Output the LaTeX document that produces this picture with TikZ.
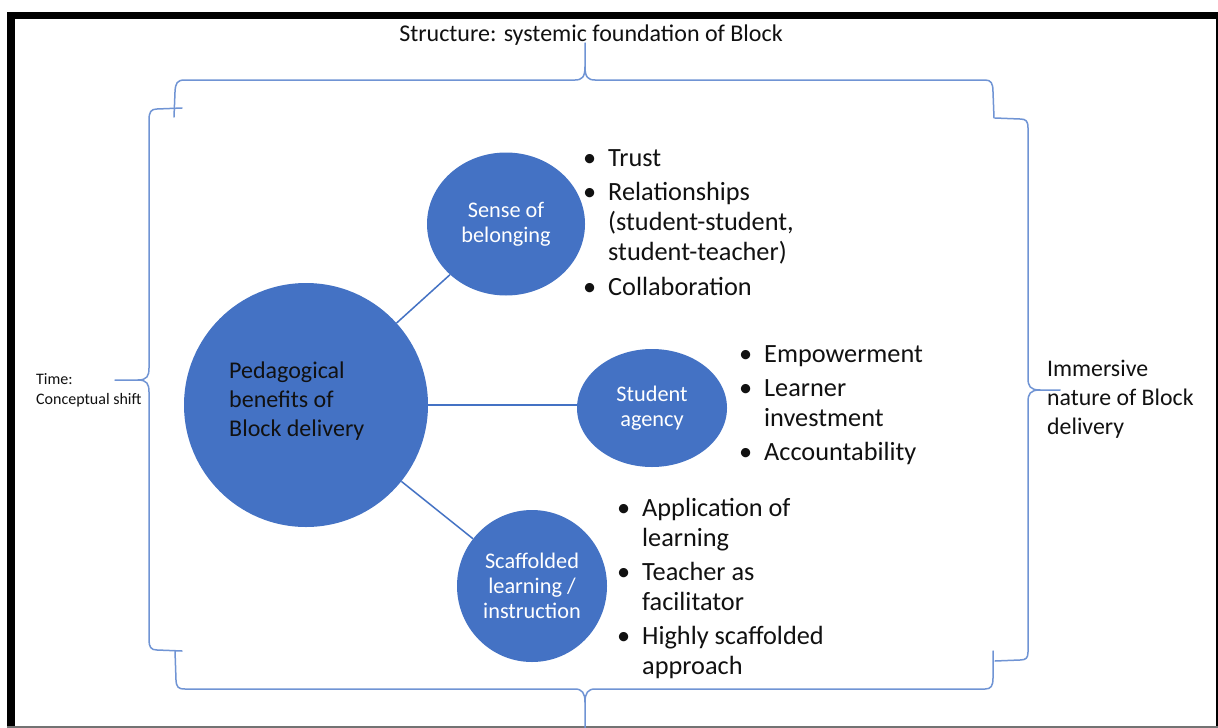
\documentclass[tikz,border=0pt]{standalone}
\usepackage{fontspec}
\setmainfont{Carlito}
\usetikzlibrary{shapes.geometric}
\definecolor{accent}{HTML}{4472C4}
\definecolor{bracec}{RGB}{112,148,212}
\definecolor{txt}{HTML}{111111}
\newcommand{\bul}{\llap{•\hspace{12pt}}}
\begin{document}
\begin{tikzpicture}[x=1pt,y=-1pt,
  bubble/.style={ellipse, fill=accent, inner sep=0pt, text=white, align=center},
  link/.style={draw=accent, line width=1.5pt},
  brace/.style={draw=bracec, line width=1.5pt, line cap=round, line join=round},
  listtxt/.style={anchor=base west, inner sep=0pt, text=txt, font=\fontsize{26.3}{30}\selectfont},
  sidetxt/.style={anchor=west, inner sep=0pt, align=left, text=txt},
]
\useasboundingbox (0,0) rectangle (1218,728);
\fill[white] (0,0) rectangle (1218,728);
% frame
\fill[black] (7,12) rectangle (15,728);
\fill[black] (7,12) rectangle (1218,19);
\draw[black, line width=2pt] (1216.5,12) -- (1216.5,728);
\draw[black!55, line width=2pt] (7,726.8) -- (1218,726.8);

% braces
\draw[brace] (174,117) -- (175,92) .. controls (175.5,83) and (177,80) .. (185,80) -- (575,80)
  .. controls (582,80) and (585,77) .. (585,67) -- (585,43);
\draw[brace] (585,67) .. controls (585,77) and (588,80) .. (595,80) -- (985,80)
  .. controls (991,80) and (993,83) .. (993,92) -- (994,118);
\draw[brace] (182,108) -- (157,109) .. controls (151,109) and (149,112) .. (149,120) -- (149,368)
  .. controls (149,376) and (147,380) .. (138,380) -- (115,380);
\draw[brace] (138,380) .. controls (147,380) and (149,384) .. (149,392) -- (149,640)
  .. controls (149,647) and (151,650) .. (157,650) -- (182,651);
\draw[brace] (995,118) -- (1020,119) .. controls (1026,119) and (1028,121) .. (1028,128) -- (1028,378)
  .. controls (1028,386) and (1030,390) .. (1040,390) -- (1060,390);
\draw[brace] (1040,390) .. controls (1030,390) and (1028,394) .. (1028,402) -- (1028,652)
  .. controls (1028,658) and (1026,660) .. (1020,660) -- (995,661);
\draw[brace] (175,651) -- (176,680) .. controls (176.5,687) and (178,689) .. (185,689) -- (575,689)
  .. controls (582,689) and (585,693) .. (585,702) -- (585,728);
\draw[brace] (585,702) .. controls (585,693) and (588,689) .. (595,689) -- (985,689)
  .. controls (991,689) and (993,686) .. (993,678) -- (993,651);

% circles
\node[bubble, minimum width=244pt, minimum height=244pt] (big) at (306,405) {};
\node[sidetxt, font=\fontsize{24}{29}\selectfont] (bigtxt) at (229,401) {Pedagogical\\benefits of\\Block delivery};
\node[bubble, minimum width=158pt, minimum height=143pt, font=\fontsize{22.3}{25}\selectfont] (sense) at (506,224) {Sense of\\belonging};
\node[bubble, minimum width=150pt, minimum height=118pt, font=\fontsize{22.3}{25}\selectfont] (agency) at (652,408) {Student\\agency};
\node[bubble, minimum width=150pt, minimum height=152pt, font=\fontsize{22.3}{25}\selectfont] (scaff) at (532,586) {Scaffolded\\learning /\\instruction};

% connectors
\draw[link] (big) -- (sense);
\draw[link] (big.east) -- (big.east -| agency.west);
\draw[link] (big) -- (scaff);

% lists
\node[listtxt] (list1) at (608,166) {\begin{tabular}[t]{@{}l@{}}\bul Trust\\[4pt] \bul Relationships\\ (student-student,\\ student-teacher)\\[5pt] \bul Collaboration\end{tabular}};
\node[listtxt] (list2) at (764,362) {\begin{tabular}[t]{@{}l@{}}\bul Empowerment\\[4pt] \bul Learner\\ investment\\[4pt] \bul Accountability\end{tabular}};
\node[listtxt] (list3) at (642,516) {\begin{tabular}[t]{@{}l@{}}\bul Application of\\ learning\\[4pt] \bul Teacher as\\ facilitator\\[4pt] \bul Highly scaffolded\\ approach\end{tabular}};

% side texts
\node[text=txt, inner sep=0pt, font=\fontsize{24}{29}\selectfont] (title) at (591,35) {Structure: systemic foundation of Block};
\node[sidetxt, font=\fontsize{16}{20}\selectfont] (timetxt) at (36,390) {Time:\\Conceptual shift};
\node[sidetxt, font=\fontsize{23.8}{29}\selectfont] (immtxt) at (1047,399) {Immersive\\nature of Block\\delivery};
\end{tikzpicture}
\end{document}
